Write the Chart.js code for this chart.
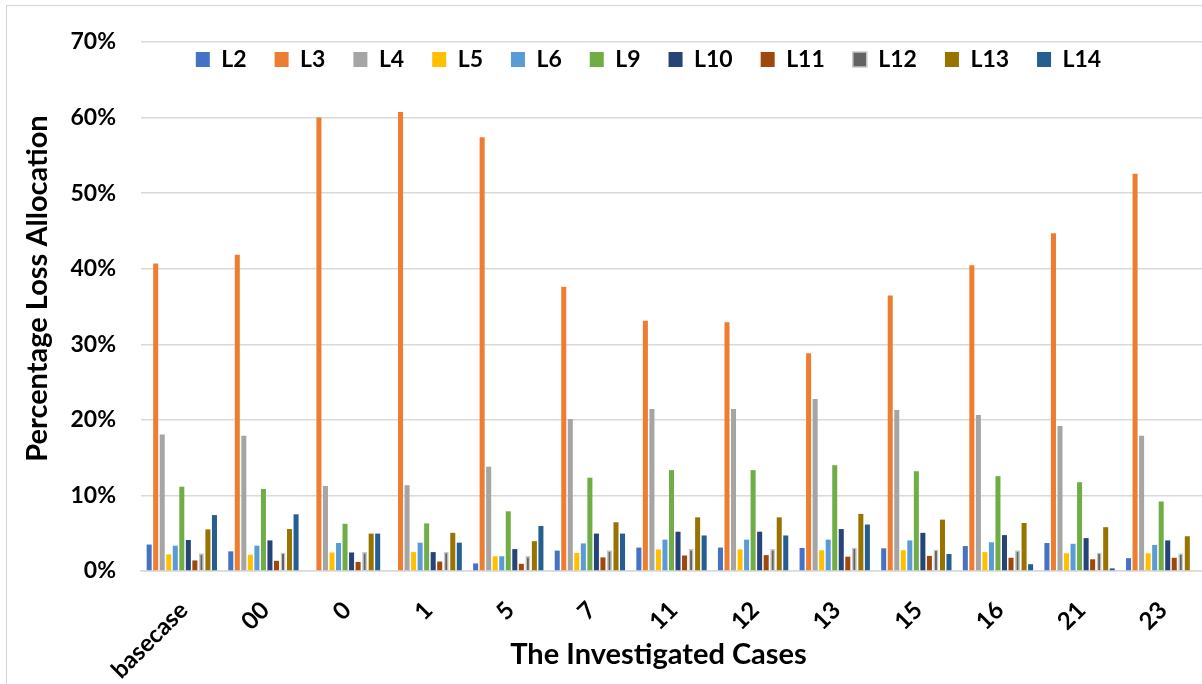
<!DOCTYPE html>
<html>
<head>
<meta charset="utf-8">
<script src="https://cdn.jsdelivr.net/npm/chart.js@4.4.1/dist/chart.umd.min.js"></script>
<style>
html, body { margin: 0; padding: 0; background: #fff; overflow: hidden; }
#frame { position: absolute; left: 6px; top: 5px; width: 1300px; height: 800px; border: 1.5px solid #d4d4d4; }
#lossChart { position: absolute; left: 0; top: 0; }
</style>
</head>
<body>
<div id="frame"></div>
<canvas id="lossChart" width="1202" height="684"></canvas>
<script>
var cases = ['basecase', '00', '0', '1', '5', '7', '11', '12', '13', '15', '16', '21', '23'];

// loss share per line, in percent
var L2  = [3.5, 2.6, 0, 0, 1.0, 2.7, 3.1, 3.1, 3.05, 3.0, 3.3, 3.7, 1.7];
var L3  = [40.7, 41.85, 60.0, 60.75, 57.4, 37.6, 33.1, 32.9, 28.8, 36.45, 40.45, 44.7, 52.55];
var L4  = [18.05, 17.9, 11.25, 11.35, 13.8, 20.1, 21.45, 21.45, 22.75, 21.3, 20.65, 19.2, 17.9];
var L5  = [2.2, 2.15, 2.45, 2.5, 1.95, 2.4, 2.85, 2.85, 2.75, 2.75, 2.5, 2.35, 2.35];
var L6  = [3.35, 3.35, 3.7, 3.75, 1.95, 3.65, 4.15, 4.15, 4.15, 4.05, 3.8, 3.6, 3.45];
var L9  = [11.15, 10.85, 6.25, 6.3, 7.9, 12.35, 13.35, 13.35, 14.0, 13.2, 12.55, 11.75, 9.2];
var L10 = [4.1, 4.05, 2.45, 2.5, 2.9, 4.95, 5.2, 5.2, 5.55, 5.05, 4.75, 4.35, 4.05];
var L11 = [1.4, 1.35, 1.2, 1.25, 0.95, 1.8, 2.05, 2.1, 1.9, 2.0, 1.75, 1.55, 1.75];
var L12 = [2.35, 2.45, 2.5, 2.55, 2.0, 2.75, 2.9, 2.9, 3.1, 2.85, 2.75, 2.45, 2.35];
var L13 = [5.5, 5.55, 4.95, 5.05, 3.95, 6.45, 7.1, 7.1, 7.55, 6.8, 6.35, 5.8, 4.6];
var L14 = [7.4, 7.5, 4.95, 3.75, 5.95, 4.95, 4.7, 4.7, 6.15, 2.25, 0.9, 0.35, 0];

var yTicks = [0, 10, 20, 30, 40, 50, 60, 70];

var names  = ['L2', 'L3', 'L4', 'L5', 'L6', 'L9', 'L10', 'L11', 'L12', 'L13', 'L14'];
var series = [L2, L3, L4, L5, L6, L9, L10, L11, L12, L13, L14];
var colors = ['#4472C4', '#ED7D31', '#A5A5A5', '#FFC000', '#5B9BD5', '#70AD47',
              '#264478', '#9E480E', '#636363', '#997300', '#255E91'];

var datasets = names.map(function (n, i) {
    var isL12 = n === 'L12';
    return {
        label: n,
        data: series[i],
        backgroundColor: colors[i],
        borderColor: isL12 ? '#c8c8c8' : colors[i],
        borderWidth: isL12 ? 1.5 : 0,
        categoryPercentage: 0.88,
        barPercentage: 0.77
    };
});

var font = 'Lato';

// nudge part of a scale by dx/dy without touching the layout
function shiftDraw(scale, fn, dx, dy) {
    if (scale['_orig_' + fn]) return;
    var orig = scale['_orig_' + fn] = scale[fn];
    scale[fn] = function () {
        var ctx = this.ctx;
        ctx.save();
        ctx.translate(dx, dy);
        orig.apply(this, arguments);
        ctx.restore();
    };
}

// legend sits in one row over the top of the plot, like the Excel original
var excelLayout = {
    id: 'excelLayout',
    afterInit: function (chart) {
        chart.legend.isHorizontal = function () { return true; };
    },
    afterLayout: function (chart) {
        chart.legend.top -= 22;
        chart.legend.left += 118;
        chart.legend.right += 118;
        shiftDraw(chart.scales.y, 'drawTitle', 0, -18);
        shiftDraw(chart.scales.x, 'drawTitle', -13, 0);
        shiftDraw(chart.scales.x, 'drawLabels', 2, 5);
    }
};

new Chart(document.getElementById('lossChart'), {
    type: 'bar',
    data: { labels: cases, datasets: datasets },
    plugins: [excelLayout],
    options: {
        responsive: false,
        animation: false,
        layout: { padding: { top: 42, left: 0, right: 0, bottom: 0 } },
        plugins: {
            legend: {
                position: 'chartArea',
                align: 'center',
                labels: {
                    boxWidth: 14,
                    boxHeight: 15,
                    padding: 28,
                    color: '#000',
                    font: { family: font, size: 23, weight: 'bold' }
                }
            },
            tooltip: { enabled: false }
        },
        scales: {
            x: {
                grid: { display: false, drawTicks: false },
                border: { display: true, color: '#d9d9d9', width: 1.5 },
                ticks: {
                    color: '#000',
                    font: { family: font, size: 24, weight: 'bold' },
                    minRotation: 45,
                    maxRotation: 45,
                    padding: 20
                },
                title: {
                    display: true,
                    text: 'The Investigated Cases',
                    color: '#000',
                    font: { family: font, size: 29, weight: 'bold' },
                    padding: { top: 0, bottom: 12 }
                },
                afterFit: function (scale) { scale.height = 113; }
            },
            y: {
                min: 0,
                max: 70,
                grid: { color: '#d9d9d9', lineWidth: 1.5, drawTicks: false },
                border: { display: false },
                afterBuildTicks: function (scale) {
                    scale.ticks = yTicks.map(function (v) { return { value: v }; });
                },
                ticks: {
                    color: '#000',
                    padding: 25,
                    font: { family: font, size: 23, weight: 'bold' },
                    callback: function (v) { return v + '%'; }
                },
                title: {
                    display: true,
                    text: 'Percentage Loss Allocation',
                    color: '#000',
                    font: { family: font, size: 29, weight: 'bold' },
                    padding: { top: 20, bottom: 0 }
                },
                afterFit: function (scale) { scale.width = 141; }
            }
        }
    }
});
</script>
</body>
</html>
